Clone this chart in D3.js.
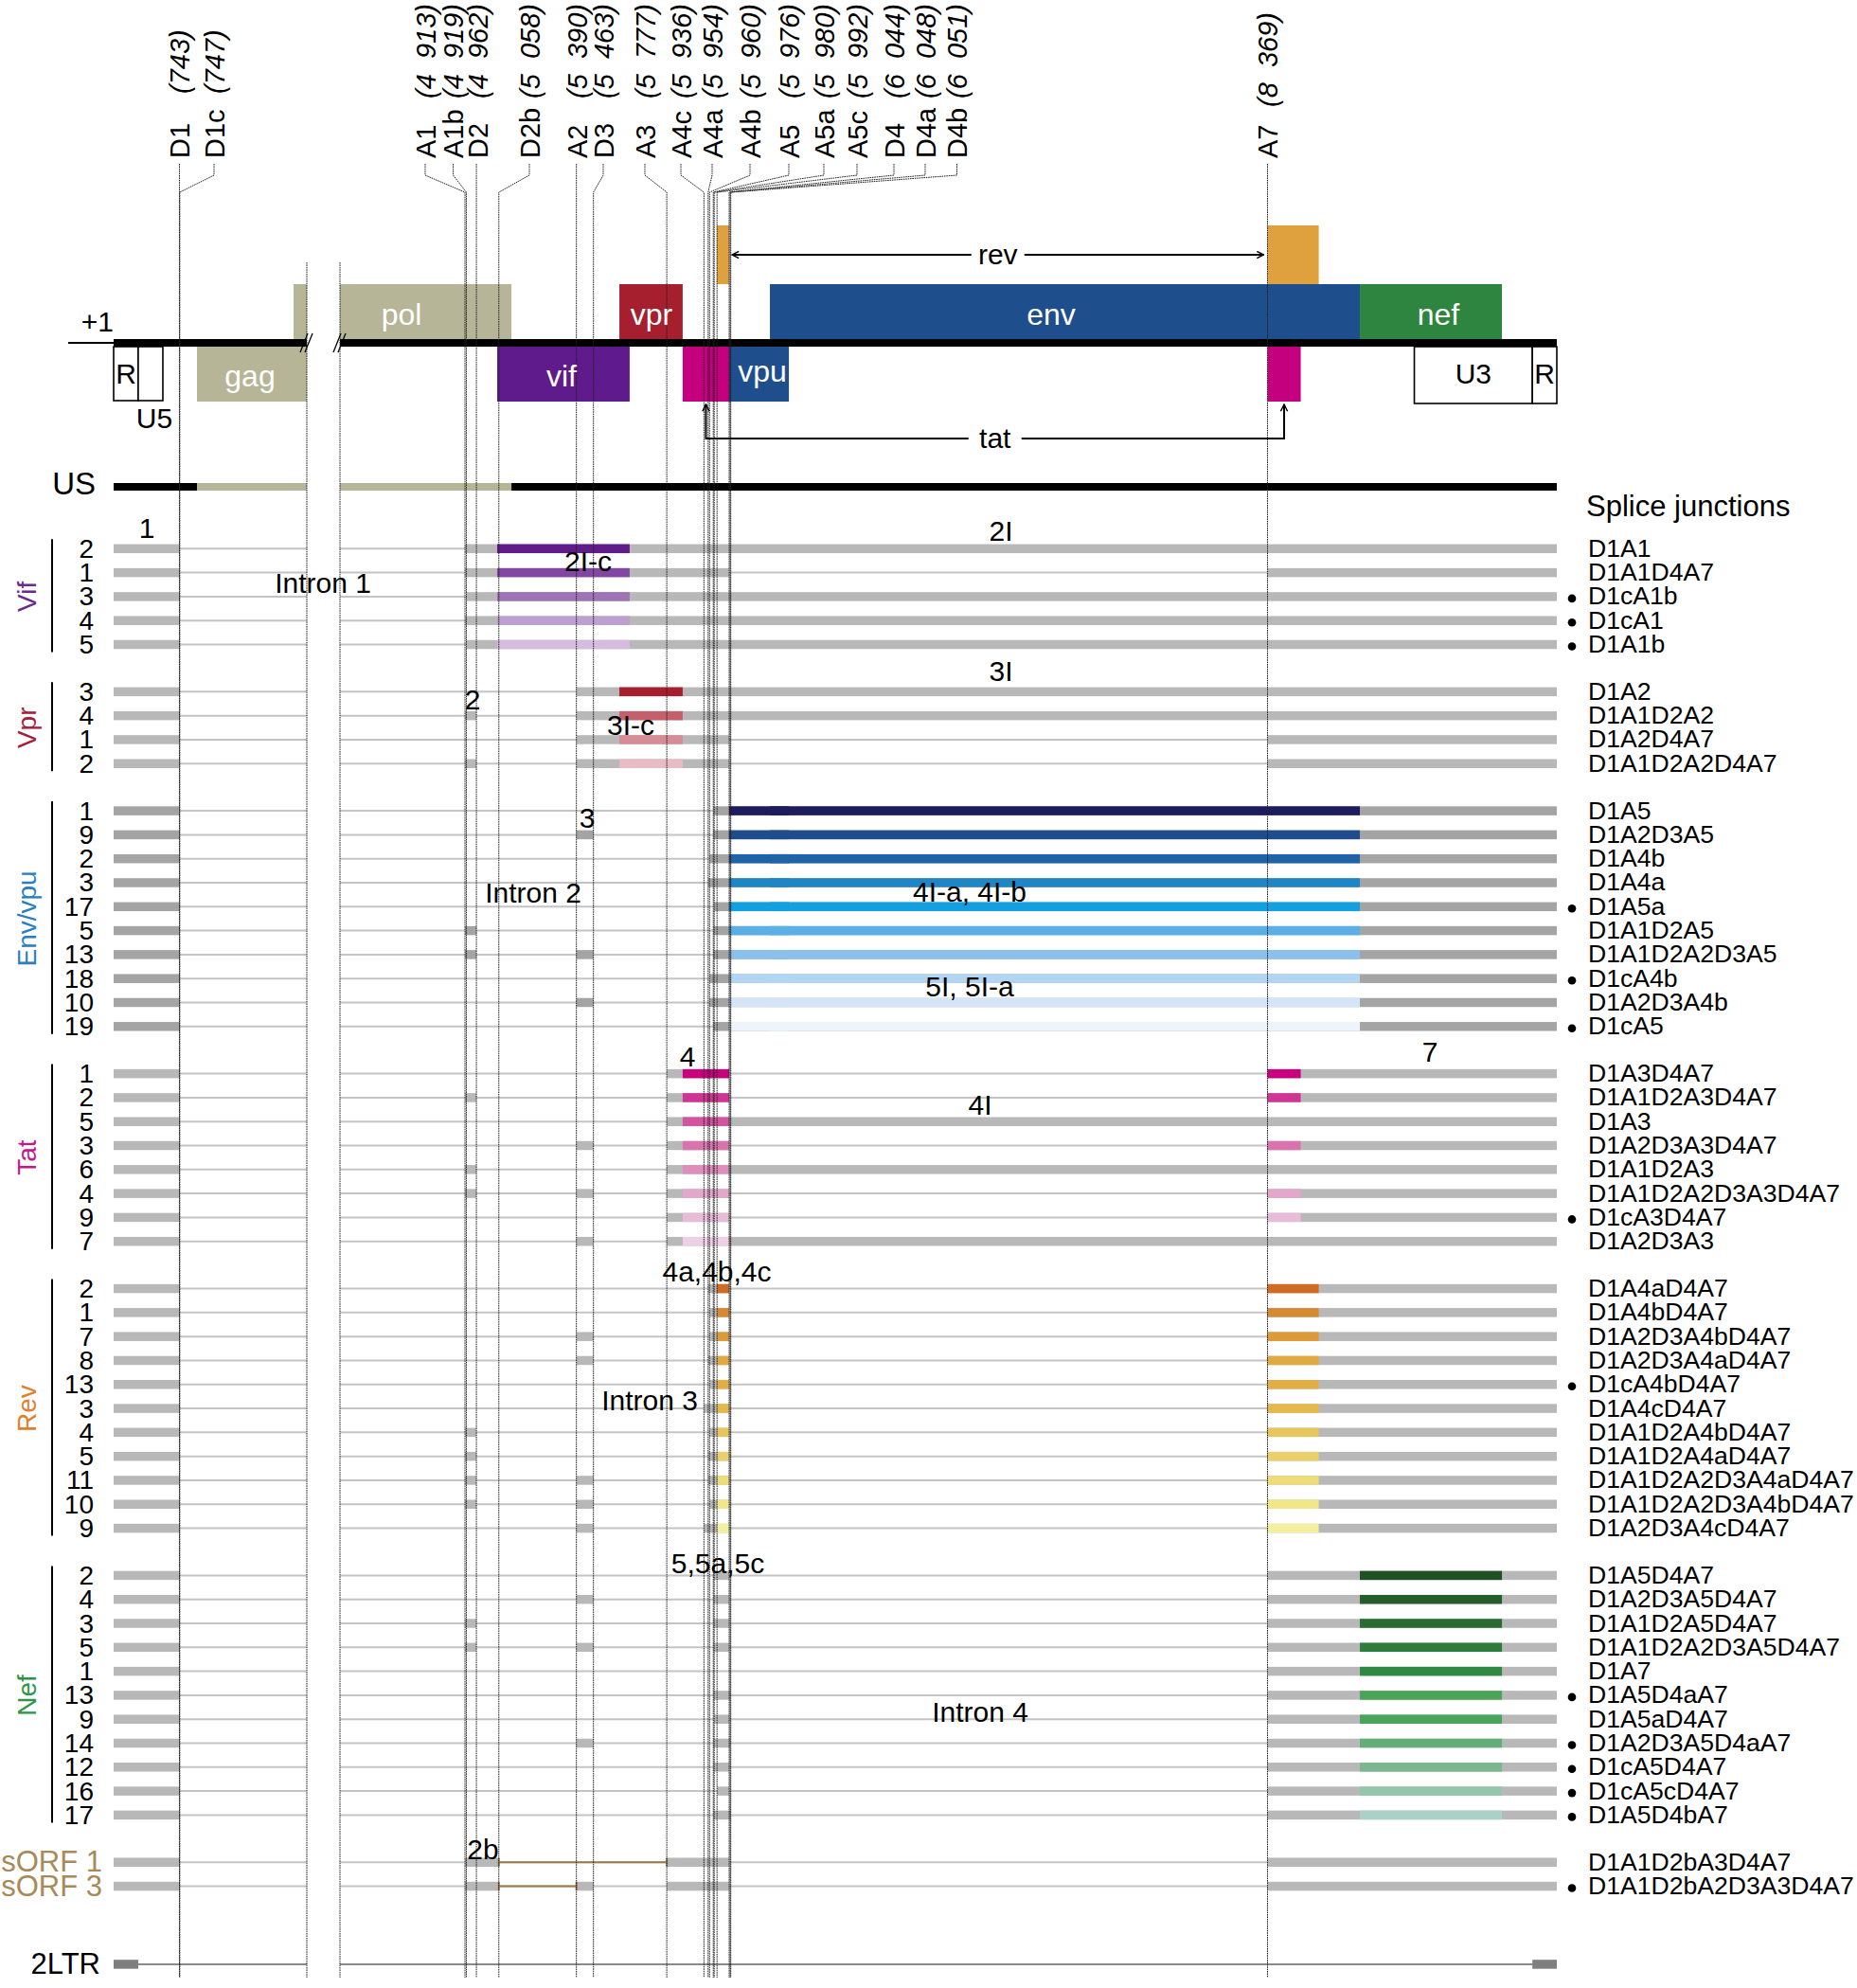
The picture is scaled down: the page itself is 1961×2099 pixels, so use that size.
<!DOCTYPE html>
<html><head><meta charset="utf-8">
<script src="https://cdn.jsdelivr.net/npm/d3@7"></script>
<style>body{margin:0;background:#fff} text{font-family:"Liberation Sans",Arial,sans-serif}</style>
</head><body><svg id="c" width="1961" height="2099"></svg>
<script>
// ================= DATA =================
const genomeEnd = 9719;
const junctionNames = ["D1","D1c","A1","A1b","D2","D2b","A2","D3","A3","A4c","A4a","A4b","A5","A5a","A5c","D4","D4a","D4b","A7"];
const junctionPos   = [743,747,4913,4919,4962,5058,5390,5463,5777,5936,5954,5960,5976,5980,5992,6044,6048,6051,8369];

const orfNames = ["gag","pol-a","pol","vif","vpr","tat1","rev1","vpu","env","rev2","tat2","nef"];
const orfStart = [956,2131,4450,5051,5574,5845,5991,6044,6220,8369,8369,8800];
const orfEnd   = [2292,2292,5112,5618,5845,6044,6044,6302,8800,8608,8524,9463];
const orfText  = ["gag","","pol","vif","vpr","","","vpu","env","","","nef"];

const ltrNames = ["R","U5","U3","R"];
const ltrStart = [1,278,9054,9605];
const ltrEnd   = [278,556,9605,9719];

const vifIds = ["2","1","3","4","5"];
const vifSJ  = ["D1A1","D1A1D4A7","D1cA1b","D1cA1","D1A1b"];
const vifNovel = [0,0,1,1,1];

const vprIds = ["3","4","1","2"];
const vprSJ  = ["D1A2","D1A1D2A2","D1A2D4A7","D1A1D2A2D4A7"];
const vprNovel = [0,0,0,0];

const envIds = ["1","9","2","3","17","5","13","18","10","19"];
const envSJ  = ["D1A5","D1A2D3A5","D1A4b","D1A4a","D1A5a","D1A1D2A5","D1A1D2A2D3A5","D1cA4b","D1A2D3A4b","D1cA5"];
const envNovel = [0,0,0,0,1,0,0,1,0,1];

const tatIds = ["1","2","5","3","6","4","9","7"];
const tatSJ  = ["D1A3D4A7","D1A1D2A3D4A7","D1A3","D1A2D3A3D4A7","D1A1D2A3","D1A1D2A2D3A3D4A7","D1cA3D4A7","D1A2D3A3"];
const tatNovel = [0,0,0,0,0,0,1,0];

const revIds = ["2","1","7","8","13","3","4","5","11","10","9"];
const revSJ  = ["D1A4aD4A7","D1A4bD4A7","D1A2D3A4bD4A7","D1A2D3A4aD4A7","D1cA4bD4A7","D1A4cD4A7","D1A1D2A4bD4A7","D1A1D2A4aD4A7","D1A1D2A2D3A4aD4A7","D1A1D2A2D3A4bD4A7","D1A2D3A4cD4A7"];
const revNovel = [0,0,0,0,1,0,0,0,0,0,0];

const nefIds = ["2","4","3","5","1","13","9","14","12","16","17"];
const nefSJ  = ["D1A5D4A7","D1A2D3A5D4A7","D1A1D2A5D4A7","D1A1D2A2D3A5D4A7","D1A7","D1A5D4aA7","D1A5aD4A7","D1A2D3A5D4aA7","D1cA5D4A7","D1cA5cD4A7","D1A5D4bA7"];
const nefNovel = [0,0,0,0,0,1,0,1,1,1,1];

const sorfIds = ["sORF 1","sORF 3"];
const sorfSJ  = ["D1A1D2bA3D4A7","D1A1D2bA2D3A3D4A7"];
const sorfNovel = [0,1];

const groupNames  = ["Vif","Vpr","Env/vpu","Tat","Rev","Nef","sORF"];
const groupCoding = [["vif"],["vpr"],["vpu","env"],["tat1","tat2"],["rev1","rev2"],["nef"],[]];
const a7OnlyOrfs  = ["tat2","rev2"];

const annotations = [
  ["1",155,557],["Intron 1",341,615],["2I-c",621,592],["2I",1057,560],["3I",1057,708],
  ["2",499,738],["3I-c",666,765],["3",620,863],["Intron 2",563,942],["4I-a, 4I-b",1024,941],
  ["5I, 5I-a",1024,1041],["4",726,1115],["7",1510,1110],["4I",1035,1166],["4a,4b,4c",757,1342],
  ["Intron 3",686,1478],["5,5a,5c",758,1650],["Intron 4",1035,1807],["2b",510,1952]
];

// ================= STYLE / LAYOUT =================
const orfColor = {gag:"#b7b597","pol-a":"#b7b597",pol:"#b7b597",vif:"#5f1a8b",vpr:"#a61f2e",tat1:"#c5007e",rev1:"#dea13e",vpu:"#1f4e8c",env:"#1f4e8c",rev2:"#dea13e",tat2:"#c5007e",nef:"#2e8540"};
const orfLane  = {gag:"below","pol-a":"above",pol:"above",vif:"below",vpr:"above",tat1:"below",rev1:"top",vpu:"below",env:"above",rev2:"top",tat2:"below",nef:"above"};
const orfTextX = {gag:264,pol:424,vif:593,vpr:688,vpu:805,env:1110,nef:1519};
const groupLabelColor = ["#6b2a90","#a5213a","#2a7fc0","#c8168a","#e07f2c","#2e9446","#a88a58"];
const rowColors = [
  ["#621c8a","#8247a3","#a073b7","#bd9fd0","#d6bce0"],
  ["#a61f2e","#c4606b","#d68c94","#e8bcc2"],
  ["#1c1c5e","#1e4d8d","#1f64a6","#1e86c7","#12a0e0","#5ab0e6","#8ac0ec","#b2d5f2","#d4e5f7","#edf4fc"],
  ["#c8007f","#cf3592","#d4529f","#d873ae","#dc8ebd","#e2a7cb","#e7bcd9","#edd0e6"],
  ["#d06b26","#d88a33","#dd9a38","#e0aa40","#e2ae44","#e5b84b","#e8c65e","#eacf6c","#eedc7a","#f2e68a","#f3ef9c"],
  ["#1f5122","#245f2a","#2a6b31","#2e7b3b","#2f8940","#4ca35a","#4aa55c","#62ad78","#7bb68e","#94c6ab","#aad1c8"],
  ["#9c7a45","#9c7a45"]
];
const labelX = [189.5,226,449,478.6,504,559,609,637,681,719,752,792,833,870,905,944,977,1010.5,1338.5];
const breakStart = 2292, breakEnd = 4450;

const x = d3.scaleLinear()
  .domain([1,743,breakStart,breakEnd,4913,6044,8369,genomeEnd])
  .range([120,189.5,324,359,491,770,1338.5,1644]);
const ySlot = d3.scaleLinear().domain([0,1]).range([579.3,604.6]);
const laneY = {top:[238,300],above:[300,358],below:[366,424]};
const LINE_BOTTOM = 2088;

const svg = d3.select("#c");
svg.append("rect").attr("width",1961).attr("height",2099).attr("fill","#fff");
const pos = n => junctionPos[junctionNames.indexOf(n)];

// ================= GENOME MAP =================
const gMap = svg.append("g");
orfNames.forEach((n,i)=>{
  const [y0,y1] = laneY[orfLane[n]];
  gMap.append("rect").attr("x",x(orfStart[i])).attr("y",y0)
    .attr("width",x(orfEnd[i])-x(orfStart[i])).attr("height",y1-y0).attr("fill",orfColor[n]);
});
ltrNames.forEach((n,i)=>{
  gMap.append("rect").attr("x",x(ltrStart[i])).attr("y",366)
    .attr("width",x(ltrEnd[i])-x(ltrStart[i])).attr("height",(i<2?57:60))
    .attr("fill","#fff").attr("stroke","#000").attr("stroke-width",1.6);
});
gMap.append("rect").attr("x",x(1)).attr("y",358).attr("width",x(breakStart)-x(1)).attr("height",8).attr("fill","#000");
gMap.append("rect").attr("x",x(breakEnd)).attr("y",358).attr("width",x(genomeEnd)-x(breakEnd)).attr("height",8).attr("fill","#000");
[x(breakStart),x(breakEnd)].forEach(bx=>{
  [-3,2].forEach(o=>gMap.append("line").attr("x1",bx+o-4).attr("y1",372).attr("x2",bx+o+4).attr("y2",352)
    .attr("stroke","#000").attr("stroke-width",1.3));
});
gMap.append("line").attr("x1",72).attr("x2",x(1)).attr("y1",362).attr("y2",362).attr("stroke","#000").attr("stroke-width",2);
gMap.append("text").attr("x",120).attr("y",350).attr("text-anchor","end").attr("font-size",30).text("+1");

// US
const US_Y = 514;
const usSegs = [[1,956,"#000"],[956,breakStart,"#b7b597"],[breakEnd,5112,"#b7b597"],[5112,genomeEnd,"#000"]];
usSegs.forEach(s=>gMap.append("rect").attr("x",x(s[0])).attr("y",US_Y-4).attr("width",x(s[1])-x(s[0])).attr("height",8).attr("fill",s[2]));
gMap.append("text").attr("x",101).attr("y",522).attr("text-anchor","end").attr("font-size",33).text("US");

// ================= ROWS =================
const groupIds = [vifIds,vprIds,envIds,tatIds,revIds,nefIds,sorfIds];
const groupSJ  = [vifSJ,vprSJ,envSJ,tatSJ,revSJ,nefSJ,sorfSJ];
const groupNov = [vifNovel,vprNovel,envNovel,tatNovel,revNovel,nefNovel,sorfNovel];
const gRows = svg.append("g");
let slot = 0, lastY = 0;
groupNames.forEach((gName,gi)=>{
  const ids = groupIds[gi];
  const ys = ids.map((_,i)=>ySlot(slot + i + gi*0.97));
  const exonGray = gName==="Env/vpu" ? "#a4a4a4" : "#b8b8b8";
  ids.forEach((id,i)=>{
    const y = ys[i];
    const toks = groupSJ[gi][i].match(/[DA]\d[a-c]?/g);
    [[1,breakStart],[breakEnd,genomeEnd]].forEach(s=>gRows.append("line")
      .attr("x1",x(s[0])).attr("x2",x(s[1])).attr("y1",y).attr("y2",y).attr("stroke","#c4c4c4").attr("stroke-width",2));
    const exons = [[1,pos(toks[0]),null]];
    for(let k=1;k<toks.length;k+=2){
      exons.push([pos(toks[k]), k+1<toks.length?pos(toks[k+1]):genomeEnd, toks[k]]);
    }
    exons.forEach(e=>{
      gRows.append("rect").attr("x",x(e[0])).attr("y",y-4.75).attr("width",x(e[1])-x(e[0])).attr("height",9.5).attr("fill",exonGray);
      groupCoding[gi].forEach(o=>{
        if(a7OnlyOrfs.includes(o) && e[2]!=="A7") return;
        const oi = orfNames.indexOf(o);
        const a = Math.max(e[0],orfStart[oi]), b = Math.min(e[1],orfEnd[oi]);
        if(b>a) gRows.append("rect").attr("x",x(a)).attr("y",y-4.75).attr("width",x(b)-x(a)).attr("height",9.5).attr("fill",rowColors[gi][i]);
      });
    });
    if(gName==="sORF"){
      const k = toks.indexOf("D2b");
      const a = x(pos("D2b")), b = x(pos(toks[k+1]));
      gRows.append("line").attr("x1",a).attr("x2",b).attr("y1",y).attr("y2",y).attr("stroke",rowColors[gi][i]).attr("stroke-width",2);
      [a,b].forEach(t=>gRows.append("line").attr("x1",t).attr("x2",t).attr("y1",y-4.5).attr("y2",y+4.5).attr("stroke",rowColors[gi][i]).attr("stroke-width",2));
      gRows.append("text").attr("x",108).attr("y",y+10).attr("text-anchor","end").attr("font-size",31)
        .attr("fill",groupLabelColor[gi]).text(id);
    } else {
      gRows.append("text").attr("x",99).attr("y",y+9.5).attr("text-anchor","end").attr("font-size",28).text(id);
    }
    gRows.append("text").attr("x",1677).attr("y",y+8.5).attr("font-size",26.6).text(groupSJ[gi][i]);
    if(groupNov[gi][i]) gRows.append("circle").attr("cx",1660).attr("cy",y+2).attr("r",4.3).attr("fill","#000");
  });
  if(gName!=="sORF"){
    gRows.append("line").attr("x1",55).attr("x2",55).attr("y1",ys[0]-10).attr("y2",ys[ys.length-1]+8)
      .attr("stroke","#000").attr("stroke-width",2);
    const cy = (ys[0]+ys[ys.length-1])/2;
    gRows.append("text").attr("transform",`translate(38,${cy}) rotate(-90)`).attr("text-anchor","middle")
      .attr("font-size",28).attr("fill",groupLabelColor[gi]).text(gName);
  }
  lastY = ys[ys.length-1];
  slot += ids.length;
});
// 2LTR
const ltrY = lastY + 82.4;
[[1,breakStart],[breakEnd,genomeEnd]].forEach(s=>gRows.append("line")
  .attr("x1",x(s[0])).attr("x2",x(s[1])).attr("y1",ltrY).attr("y2",ltrY).attr("stroke","#8a8a8a").attr("stroke-width",2));
[[1,278],[9605,genomeEnd]].forEach(s=>gRows.append("rect").attr("x",x(s[0])).attr("y",ltrY-4.75)
  .attr("width",x(s[1])-x(s[0])).attr("height",9.5).attr("fill","#7f7f7f"));
gRows.append("text").attr("x",106).attr("y",ltrY+10).attr("text-anchor","end").attr("font-size",31).text("2LTR");

// ================= JUNCTION LINES & LABELS =================
const gJ = svg.append("g");
junctionNames.forEach((n,i)=>{
  const px = x(junctionPos[i]), lx = labelX[i];
  const top = 173;
  const path = Math.abs(px-lx)<1.5 ? `M${px},${top}V${LINE_BOTTOM}` : `M${lx},${top}V185L${px},203V${LINE_BOTTOM}`;
  gJ.append("path").attr("d",path).attr("fill","none").attr("stroke","#222").attr("stroke-width",1).attr("stroke-dasharray","1.6 0.8");
  gJ.append("text").attr("transform",`translate(${lx+10.5},167) rotate(-90)`).attr("font-size",29).text(n);
  const p = junctionPos[i];
  const num = p>=1000 ? `(${Math.floor(p/1000)}  ${String(p%1000).padStart(3,"0")})` : `(${p})`;
  const nb = n[0]==="D" && p<1000 ? 99 : (n==="A7"?113:104);
  gJ.append("text").attr("transform",`translate(${lx+10.5},${nb}) rotate(-90)`).attr("font-size",29)
    .attr("font-style","italic").style("white-space","pre").text(num);
});
[x(breakStart),x(breakEnd)].forEach(bx=>gJ.append("line").attr("x1",bx).attr("x2",bx).attr("y1",277).attr("y2",LINE_BOTTOM)
  .attr("stroke","#222").attr("stroke-width",1).attr("stroke-dasharray","1.6 0.8"));

// ================= GENE TEXT =================
const gT = svg.append("g");
orfNames.forEach((n,i)=>{
  if(!orfText[i]) return;
  const lane = orfLane[n];
  const base = lane==="above" ? 343 : (n==="vpu"?403:408);
  gT.append("text").attr("x",orfTextX[n]).attr("y",base).attr("text-anchor","middle").attr("font-size",32).attr("fill","#fff").text(orfText[i]);
});
ltrNames.forEach((n,i)=>{
  const cx = (x(ltrStart[i])+x(ltrEnd[i]))/2;
  if(n==="U5") gT.append("text").attr("x",163).attr("y",452).attr("text-anchor","middle").attr("font-size",30).text(n);
  else gT.append("text").attr("x",cx).attr("y",405).attr("text-anchor","middle").attr("font-size",30).text(n);
});

// arrows
const defs = svg.append("defs");
defs.append("marker").attr("id","ah").attr("viewBox","0 -5 10 10").attr("refX",9).attr("refY",0)
  .attr("markerWidth",9).attr("markerHeight",9).attr("markerUnits","userSpaceOnUse").attr("orient","auto-start-reverse")
  .append("path").attr("d","M1,-4L9,0L1,4").attr("fill","none").attr("stroke","#000").attr("stroke-width",1.6);
const r1 = orfNames.indexOf("rev1"), r2 = orfNames.indexOf("rev2");
const revA = x(orfEnd[r1])+3, revB = x(orfStart[r2])-4;
gT.append("line").attr("x1",revA).attr("x2",revB).attr("y1",269).attr("y2",269).attr("stroke","#000").attr("stroke-width",2)
  .attr("marker-start","url(#ah)").attr("marker-end","url(#ah)");
const t1 = orfNames.indexOf("tat1"), t2 = orfNames.indexOf("tat2");
const tatA = (x(orfStart[t1])+x(orfEnd[t1]))/2, tatB = (x(orfStart[t2])+x(orfEnd[t2]))/2;
gT.append("path").attr("d",`M${tatA},${427}V463H${tatB}V427`).attr("fill","none").attr("stroke","#000").attr("stroke-width",2)
  .attr("marker-start","url(#ah)").attr("marker-end","url(#ah)");
[["rev",(revA+revB)/2,269],["tat",(tatA+tatB)/2,463]].forEach(t=>{
  gT.append("rect").attr("x",t[1]-28).attr("y",t[2]-14).attr("width",56).attr("height",28).attr("fill","#fff");
  gT.append("text").attr("x",t[1]).attr("y",t[2]+10).attr("text-anchor","middle").attr("font-size",30).text(t[0]);
});

annotations.forEach(a=>gT.append("text").attr("x",a[1]).attr("y",a[2]+10.5).attr("text-anchor","middle").attr("font-size",30).text(a[0]));
gT.append("text").attr("x",1675).attr("y",545).attr("font-size",31).text("Splice junctions");
</script></body></html>
